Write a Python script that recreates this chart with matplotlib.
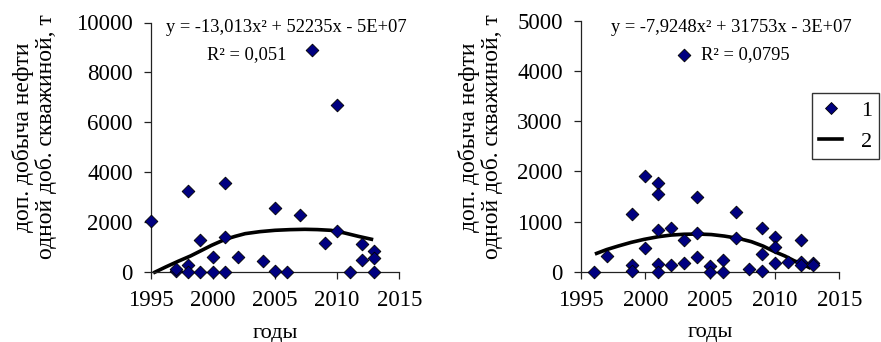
import numpy as np
import matplotlib
matplotlib.use('Agg')
import matplotlib.pyplot as plt
from matplotlib.lines import Line2D

plt.rcParams['font.family'] = ['Liberation Serif', 'DejaVu Serif']

# left chart: year / additional oil production per well, t
left_years = [1995, 1997, 1997, 1998, 1998, 1998, 1999, 1999, 2000, 2000,
              2001, 2001, 2001, 2002, 2004, 2005, 2005, 2006, 2007, 2008,
              2009, 2010, 2010, 2011, 2012, 2012, 2013, 2013, 2013]
left_values = [2050, 30, 140, 3250, 270, 0, 1270, 0, 600, 0,
               3570, 1400, 0, 600, 440, 2580, 30, 0, 2270, 8900,
               1160, 6700, 1640, 0, 1110, 470, 840, 575, 0]
# polynomial trend line
left_trend_years = [1995.2, 1996.2, 1997.2, 1998.2, 1999.0, 1999.9, 2001.0,
                    2001.8, 2002.6, 2003.8, 2005.0, 2006.2, 2007.4, 2008.4,
                    2009.5, 2010.6, 2011.7, 2012.9]
left_trend_values = [-40, 200, 428, 642, 842, 1070, 1310, 1430, 1537, 1618,
                     1671, 1698, 1711, 1700, 1671, 1564, 1430, 1297]

# right chart
right_years = [1996, 1997, 1999, 1999, 1999, 2000, 2000, 2001, 2001, 2001,
               2001, 2001, 2002, 2002, 2003, 2003, 2003, 2004, 2004, 2004,
               2005, 2005, 2006, 2006, 2007, 2007, 2008, 2009, 2009, 2009,
               2010, 2010, 2010, 2011, 2012, 2012, 2012, 2013, 2013]
right_values = [0, 320, 1150, 130, 10, 1900, 470, 1775, 1540, 835,
                145, 0, 880, 125, 4310, 640, 165, 1480, 770, 295,
                110, 0, 225, 0, 1185, 670, 60, 870, 355, 15,
                700, 495, 165, 200, 640, 200, 130, 165, 130]
right_trend_years = [1996.1, 1997.0, 1997.9, 1998.9, 1999.9, 2001.0, 2002.0,
                     2003.0, 2004.1, 2005.1, 2006.1, 2007.2, 2008.2, 2009.1,
                     2010.0, 2010.8, 2011.5, 2012.2, 2012.8]
right_trend_values = [352, 440, 511, 584, 644, 697, 730, 746, 750, 740,
                      710, 664, 598, 511, 398, 312, 219, 146, 66]

left_eq = 'y = -13,013x² + 52235x - 5E+07'
left_r2 = 'R² = 0,051'
right_eq = 'y = -7,9248x² + 31753x - 3E+07'
right_r2 = 'R² = 0,0795'

y_label = 'доп. добыча нефти\nодной доб. скважиной, т'
x_label = 'годы'

W, H = 881, 342
fig = plt.figure(figsize=(W / 100, H / 100), dpi=100)


def px_axes(x0, y0, x1, y1):
    return fig.add_axes([x0 / W, 1 - y1 / H, (x1 - x0) / W, (y1 - y0) / H])


def fig_text(x, y, s, **kw):
    return fig.text(x / W, 1 - y / H, s, **kw)


def draw_panel(ax, years, values, trend_x, trend_y, ymax, ystep,
               eq, r2, eq_pos, r2_pos, ylab_pos):
    ax.scatter(years, values, marker='D', s=42, facecolor='#000080',
               edgecolor='black', linewidth=0.6, zorder=3, clip_on=False)
    ax.plot(trend_x, trend_y, color='black', lw=2.6, zorder=2,
            solid_capstyle='butt', solid_joinstyle='round', clip_on=False)

    ax.set_xlim(1995, 2015)
    ax.set_ylim(0, ymax)
    ax.set_xticks(np.arange(1995, 2016, 5))
    ax.set_yticks(np.arange(0, ymax + 1, ystep))
    for side in ['top', 'right']:
        ax.spines[side].set_visible(False)
    for side in ['left', 'bottom']:
        ax.spines[side].set_color('#222222')
        ax.spines[side].set_linewidth(0.9)
    ax.tick_params(direction='out', length=5, width=0.9, color='#222222',
                   labelsize=16.5, pad=8)
    ax.set_xlabel(x_label, fontsize=16, labelpad=9)
    ax.patch.set_alpha(0)

    fig_text(ylab_pos[0], ylab_pos[1], y_label, rotation=90, ha='center',
             va='center', multialignment='center', fontsize=17,
             linespacing=1.05)
    fig_text(eq_pos[0], eq_pos[1], eq, ha='center', va='center',
             fontsize=13.3)
    fig_text(r2_pos[0], r2_pos[1], r2, ha='center', va='center',
             fontsize=13.3)


ax1 = px_axes(150.7, 22.5, 399.3, 272.0)
draw_panel(ax1, left_years, left_values, left_trend_years, left_trend_values,
           10000, 2000, left_eq, left_r2, (286, 27), (247, 55), (34.5, 137))

ax2 = px_axes(580.7, 20.7, 839.3, 271.7)
draw_panel(ax2, right_years, right_values, right_trend_years,
           right_trend_values, 5000, 1000, right_eq, right_r2,
           (731, 27), (745, 55), (480.5, 137))

handles = [Line2D([], [], marker='D', ls='none', markersize=6.3,
                  markerfacecolor='#000080', markeredgecolor='black',
                  markeredgewidth=0.6),
           Line2D([], [], color='black', lw=2.6)]
leg = fig.legend(handles, ['1', '2'], loc='upper left',
                 bbox_to_anchor=(812.3 / W, 1 - 93.3 / H), fontsize=16,
                 frameon=True, fancybox=False, handlelength=1.05,
                 handletextpad=0.85, borderpad=0.3, labelspacing=0.5,
                 borderaxespad=0)
leg.get_frame().set_edgecolor('black')
leg.get_frame().set_linewidth(1.0)

fig.savefig('out.png', dpi=100)
